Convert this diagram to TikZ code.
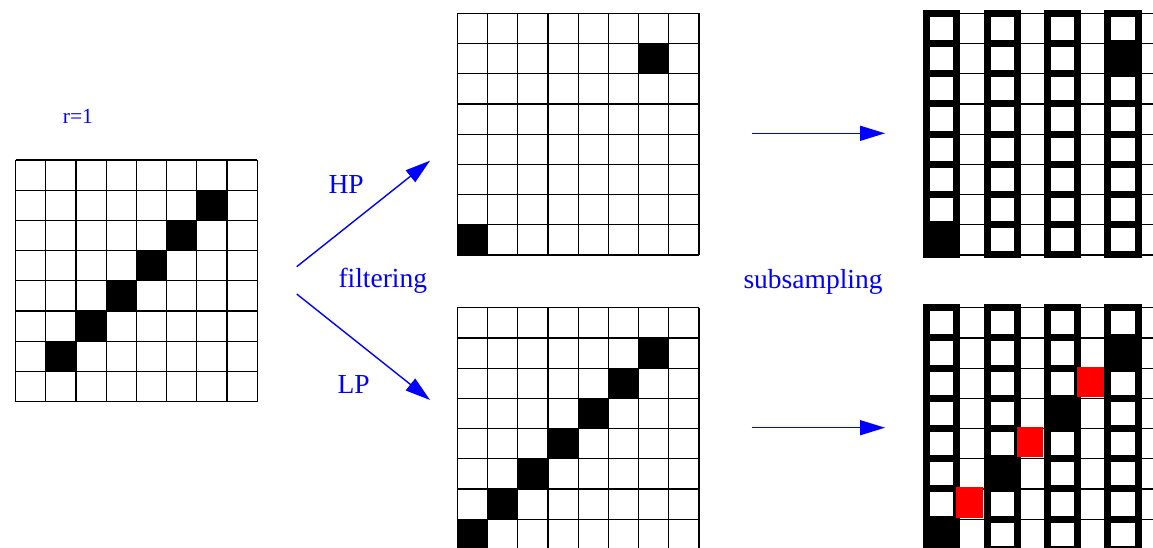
\documentclass[tikz,border=0pt]{standalone}
\usepackage{fontspec}
\setmainfont{Liberation Serif}
\usetikzlibrary{arrows.meta}

\tikzset{
  thingrid/.style={line width=1.2pt, black},
  thickcell/.style={line width=7pt, black},
  flow/.style={draw=blue, line width=1.4pt, -{Triangle[length=25pt,width=15pt]}},
  lbl/.style={text=blue, inner sep=0pt, anchor=base west, font=\fontsize{27.5}{30}\selectfont},
  smalllbl/.style={text=blue, inner sep=0pt, anchor=base west, font=\fontsize{21.5}{24}\selectfont},
}

% cell size of every 8x8 grid
\def\cs{30.2}

\begin{document}
\begin{tikzpicture}[x=1pt, y=-1pt]
  \useasboundingbox (0,0) rectangle (1153,547);
  \clip (0,0) rectangle (1153,547);

  % plain 8x8 grid: #1 = left/top corner, #2 = list of black cells col/row
  \def\plaingrid#1#2{%
    \begin{scope}[shift={#1}]
      \foreach \c/\r in {#2} \fill (\c*\cs,\r*\cs) rectangle ++(\cs,\cs);
      \foreach \i in {0,...,8} {
        \draw[thingrid] (\i*\cs,0) -- (\i*\cs,8*\cs);
        \draw[thingrid] (0,\i*\cs) -- (8*\cs,\i*\cs);
      }
    \end{scope}}

  % subsampled grid: every other column outlined heavily
  \def\subgrid#1#2{%
    \begin{scope}[shift={#1}]
      \foreach \c/\r in {#2} \fill (\c*\cs,\r*\cs) rectangle ++(\cs,\cs);
      \foreach \i in {0,...,8} {
        \draw[thingrid] (\i*\cs,0) -- (\i*\cs,8*\cs);
        \draw[thingrid] (0,\i*\cs) -- (8*\cs,\i*\cs);
      }
      \foreach \c in {0,2,4,6}
        \foreach \r in {0,...,7}
          \draw[thickcell] (\c*\cs,\r*\cs) rectangle ++(\cs,\cs);
    \end{scope}}

  % input image
  \plaingrid{(15.5,160)}{6/1,5/2,4/3,3/4,2/5,1/6}
  \node[smalllbl] (r) at (62.7,123.3) {r=1};

  % filtered images
  \plaingrid{(457.3,13.3)}{6/1,0/7}
  \plaingrid{(457.3,307.7)}{6/1,5/2,4/3,3/4,2/5,1/6,0/7}

  % subsampled images
  \subgrid{(926.7,13.3)}{6/1,0/7}
  \subgrid{(926.7,307.7)}{6/1,4/3,2/5,0/7}

  % samples dropped by the subsampling
  \fill[red] (956,487.3) rectangle (983,518.3);
  \fill[red] (1016.7,427.3) rectangle (1043.3,456.7);
  \fill[red] (1076.7,367.3) rectangle (1104,397.3);

  % filter branches
  \coordinate (split hp) at (296.7,266.7);
  \coordinate (split lp) at (296.7,294);
  \coordinate (hp in) at (430,160.7);
  \coordinate (lp in) at (430,400);
  \draw[flow] (split hp) -- (hp in);
  \draw[flow] (split lp) -- (lp in);

  \node[lbl] (hp) at (328.3,193.3) {HP};
  \node[lbl] (lp) at (337.3,393.3) {LP};
  \node[lbl] (filt) at (338.3,287.5) {filtering};

  % subsampling steps
  \coordinate (hp out) at (751.7,133.3);
  \coordinate (hp sub) at (885,133.3);
  \coordinate (lp out) at (751.7,427.7);
  \coordinate (lp sub) at (885,427.7);
  \draw[flow] (hp out) -- (hp sub);
  \draw[flow] (lp out) -- (lp sub);

  \node[lbl] (sub) at (743.3,288) {subsampling};
\end{tikzpicture}
\end{document}
